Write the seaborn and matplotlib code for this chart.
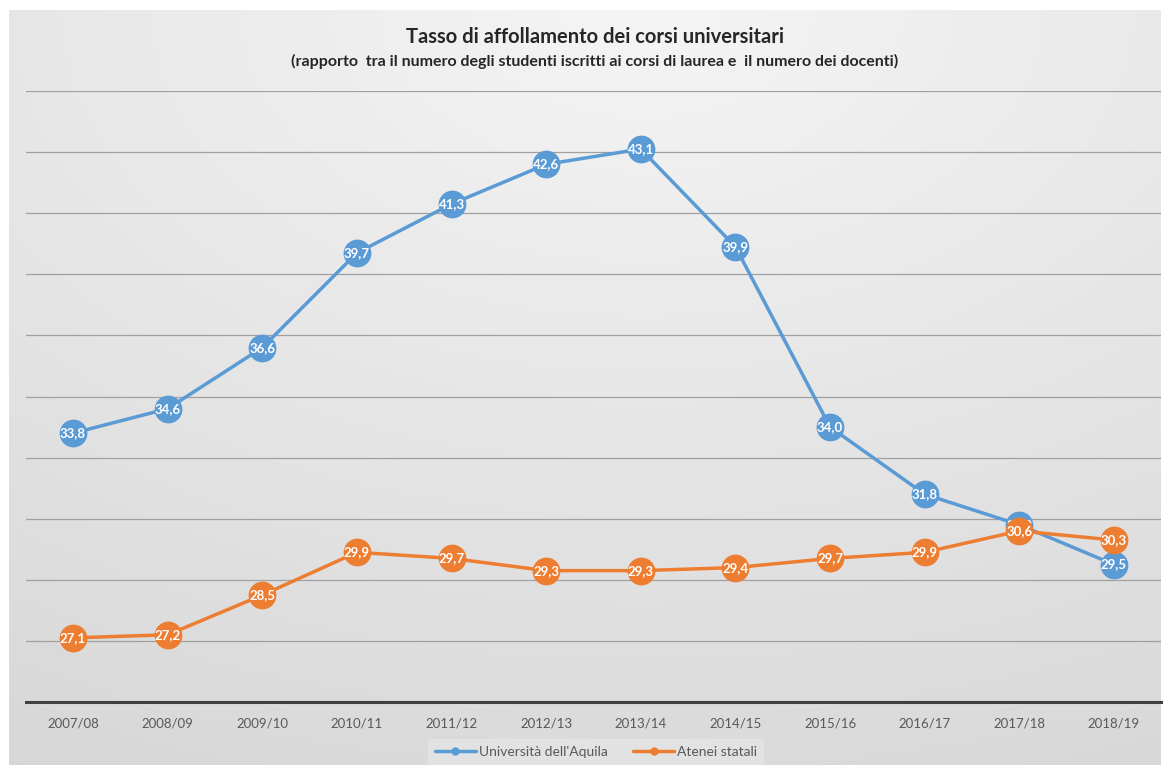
import numpy as np
import pandas as pd
import matplotlib
matplotlib.use("Agg")
import matplotlib.pyplot as plt
import seaborn as sns
from matplotlib.lines import Line2D

years = ["2007/08", "2008/09", "2009/10", "2010/11", "2011/12", "2012/13",
         "2013/14", "2014/15", "2015/16", "2016/17", "2017/18", "2018/19"]
aquila = [33.8, 34.6, 36.6, 39.7, 41.3, 42.6, 43.1, 39.9, 34.0, 31.8, 30.8, 29.5]
atenei = [27.1, 27.2, 28.5, 29.9, 29.7, 29.3, 29.3, 29.4, 29.7, 29.9, 30.6, 30.3]
series_names = ["Università dell'Aquila", "Atenei statali"]
colors = ["#5B9BD5", "#ED7D31"]
title = "Tasso di affollamento dei corsi universitari"
subtitle = "(rapporto  tra il numero degli studenti iscritti ai corsi di laurea e  il numero dei docenti)"

sns.set_style("white")
plt.rcParams['font.family'] = ['Lato', 'DejaVu Sans']

W, H = 1168, 769
fig = plt.figure(figsize=(W / 100, H / 100), dpi=100)
fig.patch.set_facecolor("white")

# background gradient panel
bg = fig.add_axes([9 / W, 4 / H, 1152 / W, 755 / H], zorder=0)
yy, xx = np.mgrid[0:1:400j, 0:1:600j]
d = np.sqrt(((xx - 0.55) * 1.0) ** 2 + ((yy - 0.0) * 1.05) ** 2)
val = np.clip(1 - d * 0.45, 0, 1)
lo, hi = 0.74, 0.96
img = lo + (hi - lo) * val
bg.imshow(np.dstack([img, img, img]), aspect="auto", extent=[0, 1, 1, 0])
bg.set_axis_off()

ax = fig.add_axes([25.7 / W, (H - 702) / H, 1135.6 / W, 611 / H], zorder=1)
ax.patch.set_alpha(0)

x = np.arange(len(years))
df = pd.DataFrame({
    "x": np.concatenate([x, x]),
    "val": aquila + atenei,
    "serie": [series_names[0]] * len(years) + [series_names[1]] * len(years),
})

for i, (name, col) in enumerate(zip(series_names, colors)):
    sub = df[df["serie"] == name]
    sns.lineplot(data=sub, x="x", y="val", ax=ax, color=col, linewidth=2.5,
                 marker="o", markersize=20, markeredgewidth=0, legend=False,
                 zorder=3 + 2 * i)
    for xi, v in zip(sub["x"], sub["val"]):
        ax.text(xi, v, f"{v:.1f}".replace(".", ","), ha="center", va="center",
                color="white", fontsize=9.5, fontweight="bold", zorder=4 + 2 * i)

ax.set_xlim(-0.5, len(years) - 0.5)
ax.set_ylim(25, 45)
ax.set_yticks(np.arange(25, 46, 2))
ax.set_yticklabels([])
ax.tick_params(axis="y", length=0)
ax.set_xticks(x)
ax.set_xticklabels(years, fontsize=9.5, color="#595959")
ax.tick_params(axis="x", length=0, pad=11)
ax.grid(axis="y", color="#a0a0a0", linewidth=0.9)
ax.set_axisbelow(True)
for s in ["top", "right", "left"]:
    ax.spines[s].set_visible(False)
ax.spines["bottom"].set_color("#404040")
ax.spines["bottom"].set_linewidth(2.2)
ax.spines["bottom"].set_zorder(2)
ax.set_xlabel("")
ax.set_ylabel("")

fig.text(595 / W, 1 - 37 / H, title, ha="center", va="center",
         fontsize=14.5, fontweight="bold", color="#262626")
fig.text(595 / W, 1 - 61 / H, subtitle, ha="center", va="center",
         fontsize=11.5, fontweight="bold", color="#262626")

handles = [Line2D([0], [0], color=c, linewidth=2.5, marker="o", markersize=5)
           for c in colors]
leg = fig.legend(handles, series_names, loc="center", bbox_to_anchor=(596 / W, 1 - 752 / H),
                 ncol=2, frameon=True, fontsize=10, handlelength=3, columnspacing=1.8,
                 handletextpad=0.2, borderpad=0.5)
leg.get_frame().set_facecolor("#e4e4e4")
leg.get_frame().set_edgecolor("none")
leg.get_frame().set_alpha(0.9)
for t in leg.get_texts():
    t.set_color("#595959")

fig.savefig("out.png", dpi=100)
